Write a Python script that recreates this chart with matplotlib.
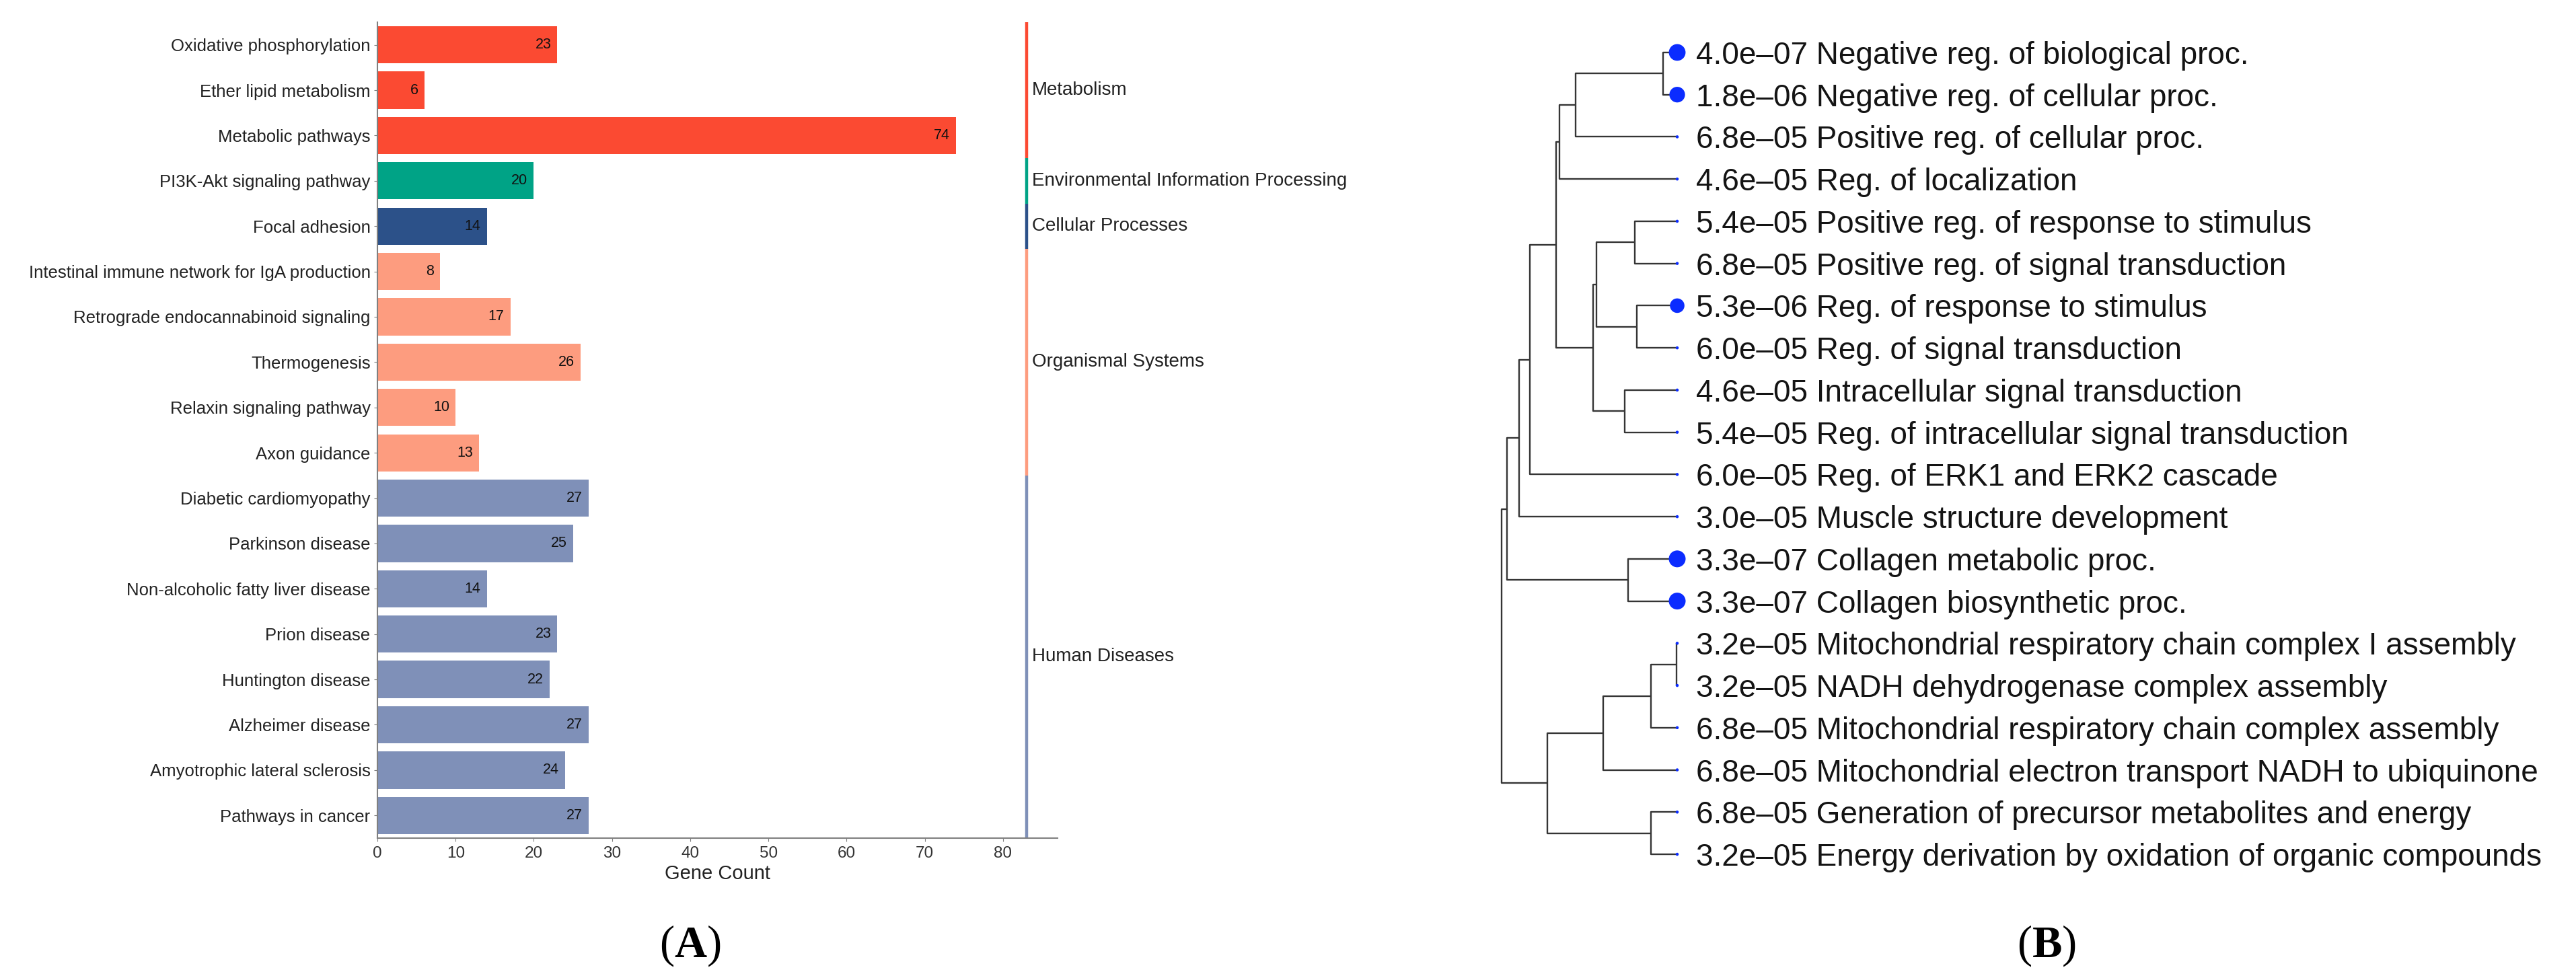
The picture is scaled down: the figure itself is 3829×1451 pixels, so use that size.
import numpy as np
import matplotlib.pyplot as plt

plt.rcParams['font.family'] = ['Liberation Sans', 'DejaVu Sans']
plt.rcParams['mathtext.fontset'] = 'custom'
plt.rcParams['mathtext.rm'] = 'Liberation Serif'
plt.rcParams['mathtext.bf'] = 'Liberation Serif:bold'

# ---- panel A: KEGG pathways ----
pathways = ["Oxidative phosphorylation", "Ether lipid metabolism", "Metabolic pathways",
            "PI3K-Akt signaling pathway", "Focal adhesion",
            "Intestinal immune network for IgA production",
            "Retrograde endocannabinoid signaling", "Thermogenesis",
            "Relaxin signaling pathway", "Axon guidance", "Diabetic cardiomyopathy",
            "Parkinson disease", "Non-alcoholic fatty liver disease", "Prion disease",
            "Huntington disease", "Alzheimer disease", "Amyotrophic lateral sclerosis",
            "Pathways in cancer"]
gene_count = [23, 6, 74, 20, 14, 8, 17, 26, 10, 13, 27, 25, 14, 23, 22, 27, 24, 27]
classes = ["Metabolism", "Environmental Information Processing", "Cellular Processes",
           "Organismal Systems", "Human Diseases"]
class_size = [3, 1, 1, 5, 8]
class_colors = ["#fb4a32", "#00a386", "#2c5189", "#fd9c7f", "#7f90b8"]

# ---- panel B: GO tree ----
go_terms = ["Negative reg. of biological proc.", "Negative reg. of cellular proc.",
            "Positive reg. of cellular proc.", "Reg. of localization",
            "Positive reg. of response to stimulus", "Positive reg. of signal transduction",
            "Reg. of response to stimulus", "Reg. of signal transduction",
            "Intracellular signal transduction", "Reg. of intracellular signal transduction",
            "Reg. of ERK1 and ERK2 cascade", "Muscle structure development",
            "Collagen metabolic proc.", "Collagen biosynthetic proc.",
            "Mitochondrial respiratory chain complex I assembly",
            "NADH dehydrogenase complex assembly",
            "Mitochondrial respiratory chain complex assembly",
            "Mitochondrial electron transport NADH to ubiquinone",
            "Generation of precursor metabolites and energy",
            "Energy derivation by oxidation of organic compounds"]
go_pvals = [4.0e-07, 1.8e-06, 6.8e-05, 4.6e-05, 5.4e-05, 6.8e-05, 5.3e-06, 6.0e-05,
            4.6e-05, 5.4e-05, 6.0e-05, 3.0e-05, 3.3e-07, 3.3e-07, 3.2e-05, 3.2e-05,
            6.8e-05, 6.8e-05, 6.8e-05, 3.2e-05]
# merges: (child a, child b, height); new node ids start at 20
merges = [(0, 1, 0.08), (20, 2, 0.58), (21, 3, 0.67), (4, 5, 0.24), (6, 7, 0.23),
          (23, 24, 0.46), (8, 9, 0.30), (25, 26, 0.48), (22, 27, 0.69), (28, 10, 0.84),
          (29, 11, 0.90), (12, 13, 0.28), (30, 31, 0.97), (14, 15, 0.005), (33, 16, 0.15),
          (34, 17, 0.42), (18, 19, 0.15), (35, 36, 0.74), (32, 37, 1.00)]

fig = plt.figure(figsize=(38.3, 14.51), dpi=100)

# ---------- A ----------
ax = fig.add_axes([0.14648, 0.1413, 0.2640, 0.8360])
bar_colors = []
for c, n in zip(class_colors, class_size):
    bar_colors += [c] * n
ypos = np.arange(len(pathways))
ax.barh(ypos, gene_count, height=0.82, color=bar_colors)
for y, v in zip(ypos, gene_count):
    ax.annotate(str(v), (v, y), xytext=(-6.5, 0), textcoords='offset points',
                ha='right', va='center', fontsize=15.5, color='#111111')
ax.set_ylim(len(pathways) - 0.5, -0.5)
ax.set_xlim(0, 87)
ax.set_yticks(ypos)
ax.set_yticklabels(pathways, fontsize=18.5, color='#222222')
ax.set_xticks(np.arange(0, 81, 10))
ax.tick_params(axis='x', labelsize=17.5, labelcolor='#333333', length=3.5,
               color='#808080', pad=5)
ax.tick_params(axis='y', length=3.5, color='#808080', pad=4)
ax.set_xlabel("Gene Count", fontsize=21, color='#222222', labelpad=4)
for s in ['top', 'right']:
    ax.spines[s].set_visible(False)
for s in ['left', 'bottom']:
    ax.spines[s].set_color('#808080')
    ax.spines[s].set_linewidth(1.5)

class_bar_x = 83
start = 0
for name, n, c in zip(classes, class_size, class_colors):
    ax.plot([class_bar_x, class_bar_x], [start - 0.5, start + n - 0.5], color=c,
            lw=3.2, solid_capstyle='butt', clip_on=False)
    ax.annotate(name, (class_bar_x, start + n / 2 - 0.5), xytext=(6, 0),
                textcoords='offset points', ha='left', va='center', fontsize=20,
                color='#222222')
    start += n

# ---------- B ----------
axb = fig.add_axes([0.57460, 0.1031, 0.07768, 0.8648])
n_leaf = len(go_terms)
node_y = list(range(n_leaf))
node_h = [0.0] * n_leaf
for a, b, h in merges:
    axb.plot([node_h[a], h, h, node_h[b]], [node_y[a], node_y[a], node_y[b], node_y[b]],
             color='#353535', lw=1.7, solid_capstyle='butt', zorder=1)
    node_y.append((node_y[a] + node_y[b]) / 2)
    node_h.append(h)

logp = -np.log10(go_pvals)
dot_d = np.maximum(4.5, 25 * np.clip((logp - 4.55) / 1.93, 0, 1) ** 0.15)
axb.scatter(np.zeros(n_leaf), np.arange(n_leaf), s=(dot_d * 0.72) ** 2,
            color='#0b2cff', edgecolors='none', zorder=3, clip_on=False)
for i, (t, p) in enumerate(zip(go_terms, go_pvals)):
    lab = f"{p:.1e}".replace("-", "\u2013") + " " + t
    axb.annotate(lab, (0, i), xytext=(20, 0), textcoords='offset points', ha='left',
                 va='center_baseline', fontsize=33, color='#141414')
axb.set_xlim(1.12, -0.02)
axb.set_ylim(n_leaf - 0.5, -0.5)
axb.axis('off')

fig.text(0.2679, 0.031, r"($\mathbf{A}$)", ha='center', va='center', fontsize=48,
         family='Liberation Serif')
fig.text(0.7943, 0.031, r"($\mathbf{B}$)", ha='center', va='center', fontsize=48,
         family='Liberation Serif')

fig.savefig("out.png", dpi=100, facecolor='white')
